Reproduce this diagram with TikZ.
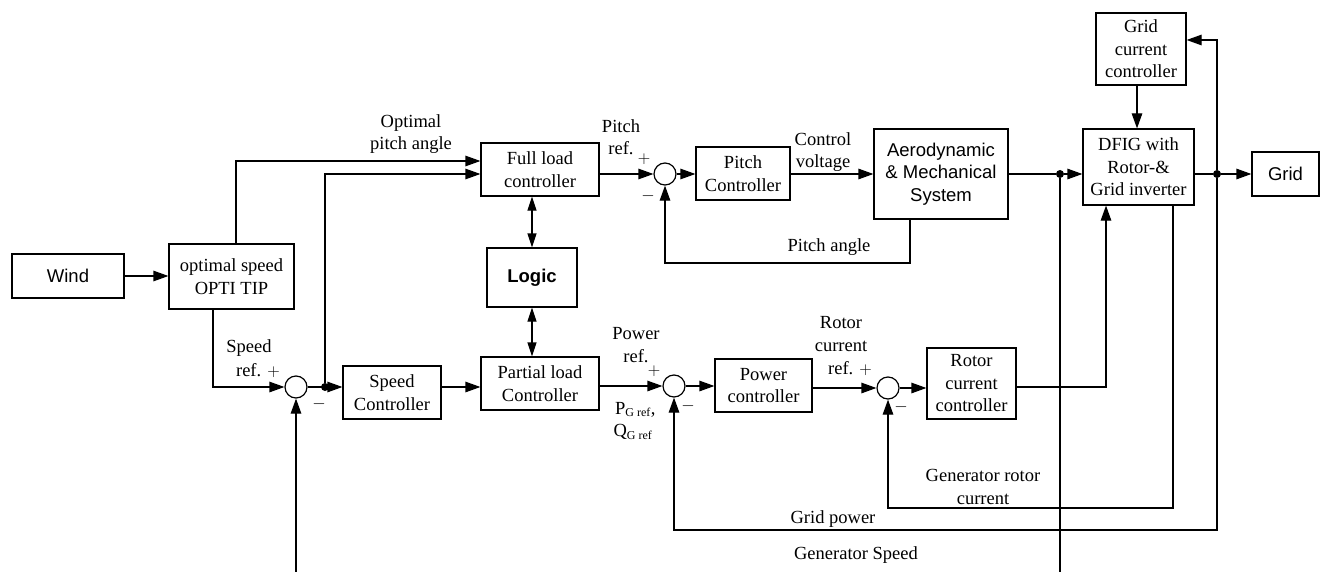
\documentclass[tikz,border=0pt]{standalone}
\usepackage{fontspec}
\setmainfont{Liberation Serif}
\newfontfamily\arialf{Liberation Sans}
\usetikzlibrary{arrows.meta}
\begin{document}
\begin{tikzpicture}[x=1pt,y=-1pt,
  serif/.style={font=\fontsize{18.5}{22.5}\selectfont},
  sans/.style={font=\arialf\fontsize{18.5}{22.5}\selectfont},
  blk/.style={draw, line width=1.2pt, inner sep=0pt, align=center, serif},
  sumc/.style={draw, circle, line width=1.2pt, minimum size=22pt, inner sep=0pt},
  lab/.style={align=center, inner sep=0pt, serif},
  conn/.style={line width=1.2pt, -{Triangle[length=15pt,width=10.5pt]}},
  dconn/.style={line width=1.2pt, {Triangle[length=14pt,width=9pt]}-{Triangle[length=14pt,width=9pt]}},
  wire/.style={line width=1.2pt},
  dot/.style={circle, fill, inner sep=0pt, minimum size=8pt}
]
\useasboundingbox (0,0) rectangle (1321,572);

% blocks
\node[blk, sans, minimum width=112pt, minimum height=44pt] (wind) at (68,276) {Wind};
\node[blk, minimum width=125pt, minimum height=65pt] (opti) at (231.5,276.5) {optimal speed\\OPTI TIP};
\node[blk, minimum width=118pt, minimum height=53pt] (full) at (540,169.5) {Full load\\controller};
\node[blk, sans, minimum width=90pt, minimum height=59pt] (logic) at (532,277.5) {\textbf{Logic}};
\node[blk, minimum width=118pt, minimum height=53pt] (partial) at (540,383.5) {Partial load\\Controller};
\node[blk, minimum width=98pt, minimum height=53pt] (speed) at (392,392.5) {Speed\\Controller};
\node[blk, minimum width=94pt, minimum height=53pt] (pitchc) at (743,173.5) {Pitch\\Controller};
\node[blk, sans, minimum width=134pt, minimum height=90pt] (aero) at (941,174) {Aerodynamic\\\& Mechanical\\System};
\node[blk, minimum width=90pt, minimum height=72pt] (gcc) at (1141,49) {Grid\\current\\controller};
\node[blk, minimum width=111pt, minimum height=76pt] (dfig) at (1138.5,167) {DFIG with\\Rotor-\&\\Grid inverter};
\node[blk, sans, minimum width=67pt, minimum height=44pt] (grid) at (1285.5,174) {Grid};
\node[blk, minimum width=97pt, minimum height=53pt] (powc) at (763.5,385.5) {Power\\controller};
\node[blk, minimum width=89pt, minimum height=71pt] (rcc) at (971.5,383.5) {Rotor\\current\\controller};

% summing junctions
\node[sumc] (s1) at (296,387) {};
\node[sumc] (s2) at (665,174) {};
\node[sumc] (s3) at (674,386) {};
\node[sumc] (s4) at (888,388) {};

% branch points
\node[dot] (j1) at (325,387) {};
\node[dot] (j2) at (1060,174) {};
\node[dot] (j3) at (1217,174) {};
\coordinate (b1) at (296,572);
\coordinate (b2) at (1060,572);

% connectors
\draw[conn] (wind.east |- 0,276) -- (opti.west |- 0,276);
\draw[conn] (opti.north -| 236,0) |- (full.west |- 0,161);
\draw[conn] (j1) |- (full.west |- 0,174);
\draw[conn] (opti.south -| 213,0) |- (s1.west);
\draw[conn] (s1.east) -- (speed.west |- s1.east);
\draw[conn] (b1) -- (s1.south);
\draw[conn] (speed.east |- 0,387) -- (partial.west |- 0,387);
\draw[dconn] (full.south -| logic.north) -- (logic.north);
\draw[dconn] (logic.south) -- (partial.north -| logic.south);
\draw[conn] (full.east |- s2.west) -- (s2.west);
\draw[conn] (s2.east) -- (pitchc.west |- s2.east);
\draw[conn] (pitchc.east |- 0,174) -- (aero.west |- 0,174);
\draw[conn] (aero.south -| 910,0) |- (s2.south |- 0,263) -- (s2.south);
\draw[wire] (aero.east |- j2) -- (j2);
\draw[conn] (j2) -- (dfig.west |- j2);
\draw[wire] (j2) -- (b2);
\draw[conn] (gcc.south -| 1137,0) -- (dfig.north -| 1137,0);
\draw[wire] (dfig.east |- j3) -- (j3);
\draw[conn] (j3) -- (grid.west |- j3);
\draw[conn] (j3) |- (gcc.east |- 0,40);
\draw[conn] (j3) |- (s3.south |- 0,530) -- (s3.south);
\draw[conn] (dfig.south -| 1173,0) |- (s4.south |- 0,508) -- (s4.south);
\draw[conn] (partial.east |- s3.west) -- (s3.west);
\draw[conn] (s3.east) -- (powc.west |- s3.east);
\draw[conn] (powc.east |- s4.west) -- (s4.west);
\draw[conn] (s4.east) -- (rcc.west |- s4.east);
\draw[conn] (rcc.east |- 0,387) -| (dfig.south -| 1106,0);

% labels
\node[lab] (lopt) at (411,134) {Optimal\\pitch angle};
\node[lab] (lpref) at (621,137) {Pitch\\ref.};
\node[lab] (lp2p) at (644,159) {$+$};
\node[lab] (lp2m) at (648,196) {$-$};
\node[lab] (lcv) at (823,152) {Control\\voltage};
\node[lab] (lpa) at (829,247) {Pitch angle};
\node[lab] (lsr) at (249,348) {Speed};
\node[lab] (lsr2) at (258,371) {ref. $+$};
\node[lab] (ls1m) at (319,404) {$-$};
\node[lab] (lpw) at (636,345) {Power\\ref.};
\node[lab] (lpwp) at (654,371) {$+$};
\node[lab] (lpq) at (633,421) {P\textsubscript{\fontsize{12}{12}\selectfont G ref}\rlap{,}\\Q\textsubscript{\fontsize{12}{12}\selectfont G ref}};
\node[lab] (ls3m) at (688,406) {$-$};
\node[lab] (lrc) at (841,334) {Rotor\\current};
\node[lab] (lrc2) at (850,369) {ref. $+$};
\node[lab] (ls4m) at (901,407) {$-$};
\node[lab] (lgrc) at (983,487) {Generator rotor\\current};
\node[lab] (lgp) at (833,519) {Grid power};
\node[lab] (lgs) at (856,555) {Generator Speed};
\end{tikzpicture}
\end{document}
